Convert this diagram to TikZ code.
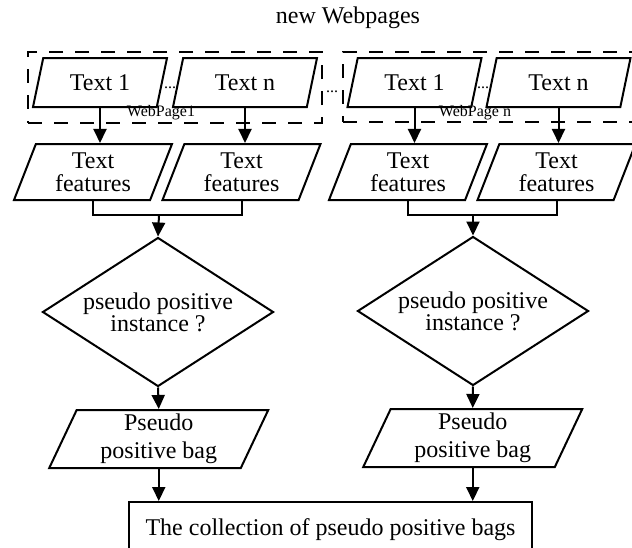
\documentclass[tikz,border=0pt]{standalone}
\usepackage{fontspec}
\setmainfont{Liberation Serif}
\usetikzlibrary{positioning,calc,shapes.geometric,arrows.meta}
\tikzset{
    databox/.style={trapezium, trapezium left angle=63, trapezium right angle=117,
        trapezium stretches body, draw, line width=1pt, inner sep=1pt, align=center,
        font=\fontsize{12}{11.5}\selectfont},
    decision/.style={diamond, draw, line width=1pt, inner xsep=-8pt, inner ysep=-2pt,
        align=center, minimum width=115.5pt, minimum height=61pt,
        font=\fontsize{12}{11}\selectfont},
    webframe/.style={draw, line width=1.2pt, dash pattern=on 7pt off 6pt, inner sep=0pt},
    flowline/.style={line width=1pt},
    flowarrow/.style={line width=1pt, -{Triangle[length=7pt,width=6.5pt]}},
    smalltext/.style={inner sep=0pt, font=\fontsize{8}{9}\selectfont}
}
\begin{document}
\begin{tikzpicture}[
                x=0.5pt, y=-0.5pt,
                featbox/.style={databox, minimum width=79pt, minimum height=28pt},
                bagbox/.style={databox, minimum width=109.5pt, minimum height=29pt,
                    font=\fontsize{12}{14}\selectfont}
            ]
                \useasboundingbox (0,0) rectangle (632,547);
                \node[font=\fontsize{12}{14}\selectfont] (title) at (348,18) {new Webpages};
                % two web pages, each with its texts
                \node[webframe, minimum width=147pt, minimum height=35.5pt] (page1) at (175,87.5) {};
                \node[webframe, minimum width=148.5pt, minimum height=35pt] (page2) at (491.5,87) {};
                \node[databox, minimum width=67pt, minimum height=24.5pt] (t11) at (100,82.5) {Text 1};
                \node[databox, minimum width=72pt, minimum height=24.5pt] (t1n) at (245,82.5) {Text n};
                \node[databox, minimum width=67pt, minimum height=24.5pt] (t21) at (414.5,82.5) {Text 1};
                \node[databox, minimum width=72pt, minimum height=24.5pt] (t2n) at (558.5,82.5) {Text n};
                \node[smalltext] (dots1) at (170,88) {...};
                \node[smalltext] (dots2) at (332,92) {...};
                \node[smalltext] (dots3) at (483,88) {...};
                \node[smalltext] (lab1) at (161,113) {WebPage1};
                \node[smalltext] (lab2) at (475,113) {WebPage n};
                % features of each text
                \node[featbox] (tf1) at (93,172) {Text\\features};
                \node[featbox] (tf2) at (241.5,172) {Text\\features};
                \node[featbox] (tf3) at (408,172) {Text\\features};
                \node[featbox] (tf4) at (556.5,172) {Text\\features};
                \coordinate (j1) at (159,215);
                \coordinate (j2) at (473,215);
                % decisions and bags
                \node[decision] (d1) at (158,312) {pseudo positive\\instance ?};
                \node[decision] (d2) at (473,311) {pseudo positive\\instance ?};
                \node[bagbox] (b1) at (158.75,439) {Pseudo\\positive bag};
                \node[bagbox] (b2) at (472.75,438) {Pseudo\\positive bag};
                \node[draw, line width=1pt, minimum width=201.5pt, minimum height=28pt,
                    font=\fontsize{12}{14}\selectfont] (all) at (330.5,530)
                    {The collection of pseudo positive bags};
                % connectors
                \foreach \t/\f in {t11/tf1, t1n/tf2, t21/tf3, t2n/tf4}
                    \draw[flowarrow] (\t.south) -- (\t.south |- \f.north);
                \draw[flowline] (tf1.south) -- (tf1.south |- j1) -- (tf2.south |- j1) -- (tf2.south);
                \draw[flowline] (tf3.south) -- (tf3.south |- j2) -- (tf4.south |- j2) -- (tf4.south);
                \draw[flowarrow] (j1) -- (d1.north);
                \draw[flowarrow] (j2) -- (d2.north);
                \draw[flowarrow] (d1.south) -- (b1.north);
                \draw[flowarrow] (d2.south) -- (b2.north);
                \draw[flowarrow] (b1.south) -- (b1.south |- all.north);
                \draw[flowarrow] (b2.south) -- (b2.south |- all.north);
            \end{tikzpicture}
\end{document}
